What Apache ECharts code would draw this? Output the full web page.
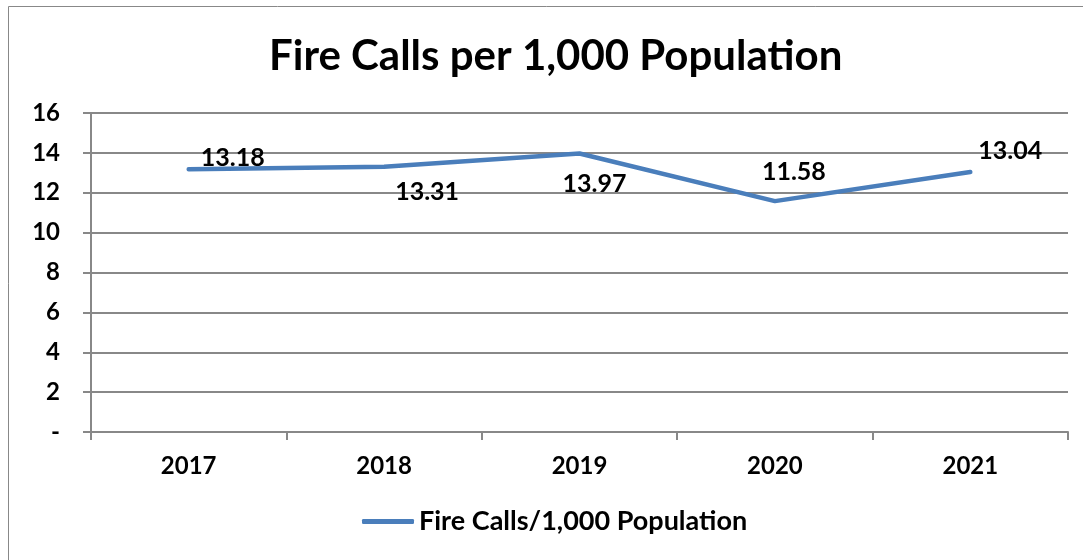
<!DOCTYPE html>
<html>
<head>
<meta charset="utf-8">
<script src="https://cdn.jsdelivr.net/npm/echarts@6/dist/echarts.min.js"></script>
<style>html,body{margin:0;padding:0;background:#fff}#c{width:1083px;height:560px}</style>
</head>
<body>
<div id="c"></div>
<script>
var categories = ['2017', '2018', '2019', '2020', '2021'];
var values = [13.18, 13.31, 13.97, 11.58, 13.04];
var yTicks = [0, 2, 4, 6, 8, 10, 12, 14, 16];
var seriesName = 'Fire Calls/1,000 Population';
var titleText = 'Fire Calls per 1,000 Population';
// label offsets (style only)
var labelOffsets = [[44, -11], [43, 25], [15, 30], [19, -29], [40, -21]];

var FONT = 'Lato';
var chart = echarts.init(document.getElementById('c'));
chart.setOption({
  animation: false,
  backgroundColor: '#fff',
  graphic: [{
    type: 'rect', shape: {x: 8.5, y: 6.5, width: 1100, height: 600},
    style: {fill: 'none', stroke: '#888', lineWidth: 1}, silent: true, z: -1
  }],
  title: {
    text: titleText, left: 264, top: 30,
    textStyle: {fontFamily: FONT, fontWeight: 'bold', fontSize: 42, color: '#000'}
  },
  grid: {left: 91, right: 15, top: 113, bottom: 128, containLabel: false},
  xAxis: {
    type: 'category', data: categories, boundaryGap: true,
    axisLine: {lineStyle: {color: '#888', width: 2}},
    axisTick: {show: true, length: 8, lineStyle: {color: '#888', width: 2}, alignWithLabel: false},
    axisLabel: {margin: 22, fontFamily: FONT, fontWeight: 'bold', fontSize: 24, color: '#000'}
  },
  yAxis: {
    type: 'value', min: yTicks[0], max: yTicks[yTicks.length - 1], interval: 2,
    axisLine: {show: true, lineStyle: {color: '#888', width: 2}},
    axisTick: {show: true, length: 8, lineStyle: {color: '#888', width: 2}},
    splitLine: {show: true, lineStyle: {color: '#888', width: 2}},
    axisLabel: {
      margin: 31, fontFamily: FONT, fontWeight: 'bold', fontSize: 24, color: '#000',
      formatter: function (v) { return v === 0 ? '-' : String(v); }
    }
  },
  legend: {
    data: [{name: seriesName, icon: 'roundRect'}], bottom: 20, left: 357,
    itemWidth: 52, itemHeight: 5, itemGap: 10,
    textStyle: {fontFamily: FONT, fontWeight: 'bold', fontSize: 27, color: '#000'}
  },
  series: [{
    name: seriesName, type: 'line', data: values.map(function (v, i) {
      return {value: v, label: {offset: labelOffsets[i]}};
    }),
    symbol: 'circle', symbolSize: 0.01, showSymbol: true,
    lineStyle: {color: '#4A7EBB', width: 4.5, cap: 'round', join: 'round'},
    itemStyle: {color: '#4A7EBB'},
    label: {
      show: true, position: 'inside',
      fontFamily: FONT, fontWeight: 'bold', fontSize: 25, color: '#000',
      formatter: function (p) { return p.value.toFixed(2); }
    }
  }]
});
</script>
</body>
</html>
